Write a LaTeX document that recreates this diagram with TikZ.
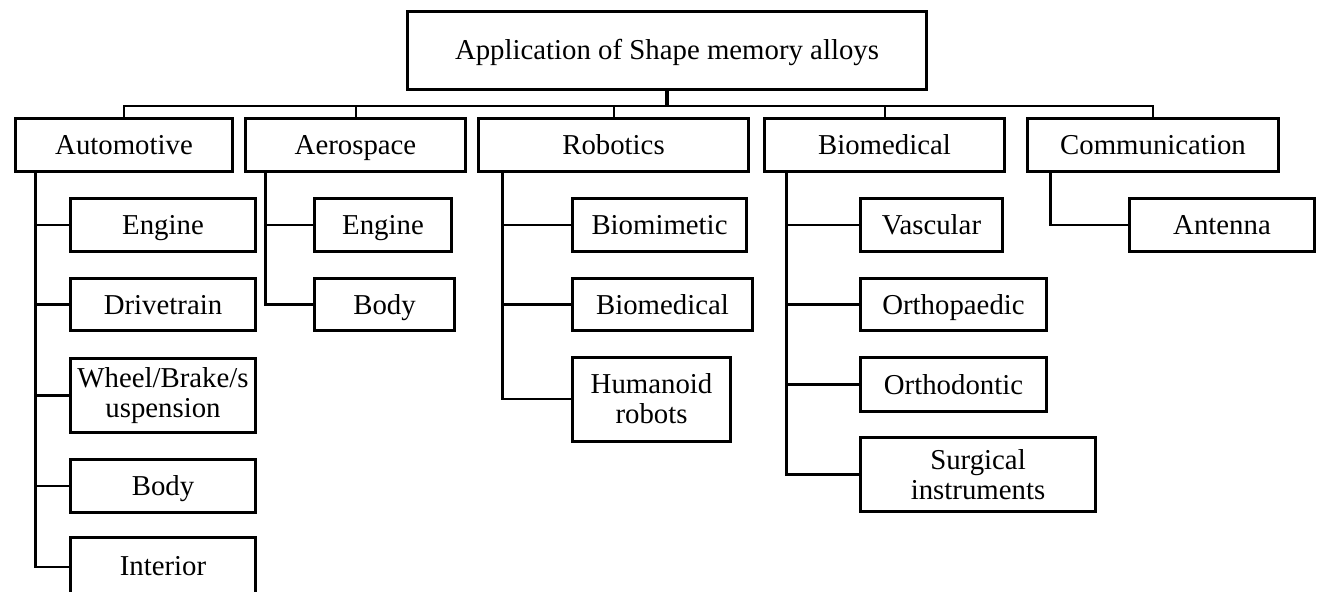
\documentclass[tikz,border=0pt]{standalone}
\usepackage{fontspec}
\setmainfont{Liberation Serif}

\begin{document}
\begin{tikzpicture}[x=1pt, y=-1pt,
		link/.style = {draw=black, line width=2.5pt},
		box/.style args = {#1/#2}{%
			draw, line width=3pt, align=center, inner sep=0pt,
			font=\fontsize{28.8}{30}\selectfont,
			minimum width=#1, minimum height=#2},
		oneline/.style = {text height=26pt, text depth=7pt}
                    ]
		\useasboundingbox (0,0) rectangle (1321,591);

		\node(sma)  [box=519pt/78pt, oneline] at (667,50.5) {Application of Shape memory alloys};
		\node(auto) [box=217pt/53pt, oneline] at (124,145) {Automotive};
		\node(aero) [box=220pt/53pt, oneline] at (355.5,145) {Aerospace};
		\node(robo) [box=270pt/53pt, oneline] at (613.5,145) {Robotics};
		\node(bio)  [box=240pt/53pt, oneline] at (884.5,145) {Biomedical};
		\node(comm) [box=251pt/53pt, oneline] at (1153,145) {Communication};

		% automotive
		\node(autoeng) [box=185pt/53pt, oneline] at (163,225) {Engine};
		\node(autodrv) [box=185pt/52pt, oneline] at (163,304.5) {Drivetrain};
		\node(autowhl) [box=185pt/74pt] at (163,395.5) {Wheel/Brake/s\\uspension};
		\node(autobdy) [box=185pt/53pt, oneline] at (163,486) {Body};
		\node(autoint) [box=185pt/58pt, oneline] at (163,566) {Interior};
		% aerospace
		\node(aeroeng) [box=137pt/53pt, oneline] at (383,225) {Engine};
		\node(aerobdy) [box=140pt/52pt, oneline] at (384.5,304.5) {Body};
		% robotics
		\node(robobio) [box=174pt/53pt, oneline] at (659.5,225) {Biomimetic};
		\node(robomed) [box=180pt/52pt, oneline] at (662.5,304.5) {Biomedical};
		\node(robohum) [box=158pt/84pt] at (651.5,399) {Humanoid\\robots};
		% biomedical
		\node(biovas) [box=142pt/53pt, oneline] at (931.5,225) {Vascular};
		\node(bioped) [box=186pt/52pt, oneline] at (953.5,304.5) {Orthopaedic};
		\node(biodon) [box=186pt/54pt, oneline] at (953.5,384.5) {Orthodontic};
		\node(biosur) [box=235pt/74pt] at (978,474.5) {Surgical\\instruments};
		% communication
		\node(comant) [box=185pt/53pt, oneline] at (1222,225) {Antenna};

		\coordinate (bus) at (667,106);
		\draw [link, line width=4pt] (sma.south) -- (bus);
		\draw [link, line width=2pt] (auto.north) |- (bus) -| (comm.north);
		\foreach \n in {aero, robo, bio}
			\draw [link, line width=2pt] (\n.north) -- (\n.north |- bus);

		\foreach \c in {autoeng, autodrv, autowhl, autobdy}
			\draw [link] ([xshift=21.5pt]auto.south west) |- (\c.west);
		\draw [link] ([xshift=21.5pt]auto.south west) |- ([yshift=-1pt]autoint.west);
		\foreach \c in {aeroeng, aerobdy}
			\draw [link] ([xshift=21.5pt]aero.south west) |- (\c.west);
		\foreach \c in {robobio, robomed, robohum}
			\draw [link] ([xshift=25.5pt]robo.south west) |- (\c.west);
		\foreach \c in {biovas, bioped, biodon, biosur}
			\draw [link] ([xshift=23.5pt]bio.south west) |- (\c.west);
		\draw [link] ([xshift=24.5pt]comm.south west) |- (comant.west);
	\end{tikzpicture}
\end{document}
